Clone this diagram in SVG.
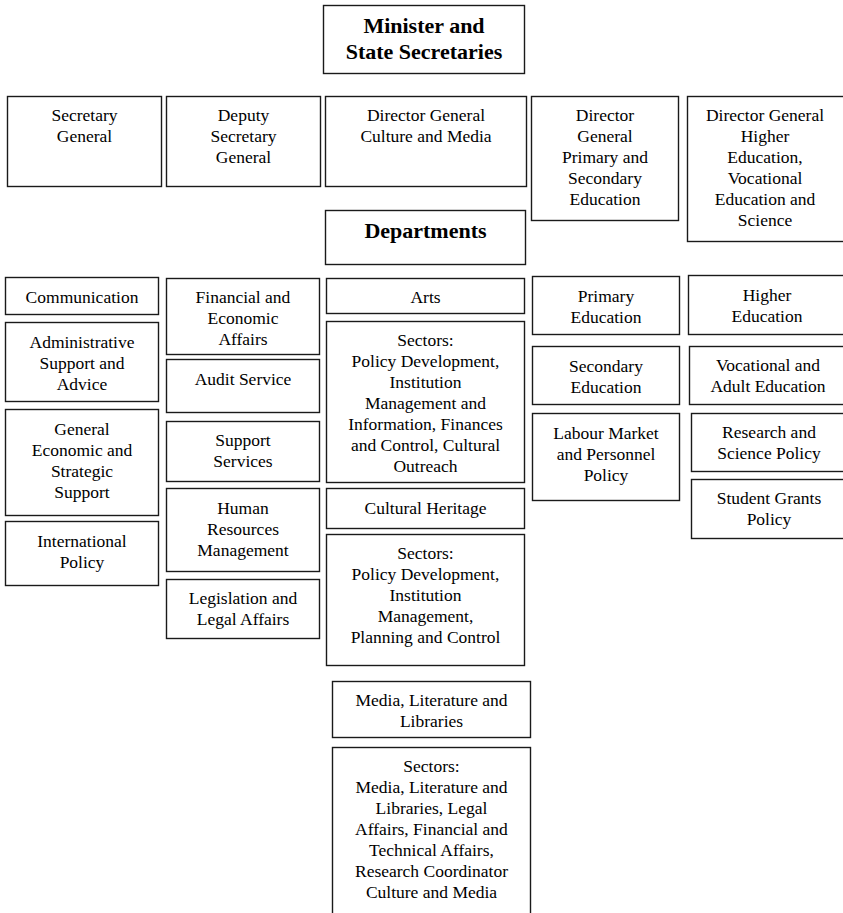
<svg xmlns="http://www.w3.org/2000/svg" width="843" height="913" viewBox="0 0 843 913">
  <style>
    .box { fill: #ffffff; stroke: #1a1a1a; stroke-width: 1.4; }
    .t { font-family: "Liberation Serif", "Times New Roman", serif; font-size: 17.5px; fill: #000; text-anchor: middle; }
    .b { font-family: "Liberation Serif", "Times New Roman", serif; font-size: 22px; font-weight: bold; fill: #000; text-anchor: middle; }
  </style>
  <rect x="0" y="0" width="843" height="913" fill="#ffffff"/>

  <!-- Top level -->
  <g id="minister">
    <rect class="box" x="323.5" y="5.5" width="201" height="68"/>
    <text class="b" x="424" y="33">Minister and</text>
    <text class="b" x="424" y="59">State Secretaries</text>
  </g>

  <!-- Directors row -->
  <g id="secretary-general">
    <rect class="box" x="7.5" y="96.5" width="154" height="90"/>
    <text class="t" x="84.5" y="121">Secretary</text>
    <text class="t" x="84.5" y="142">General</text>
  </g>
  <g id="deputy-secretary-general">
    <rect class="box" x="166.5" y="96.5" width="154" height="90"/>
    <text class="t" x="243.5" y="121">Deputy</text>
    <text class="t" x="243.5" y="142">Secretary</text>
    <text class="t" x="243.5" y="163">General</text>
  </g>
  <g id="dg-culture-media">
    <rect class="box" x="325.5" y="96.5" width="201" height="90"/>
    <text class="t" x="426" y="121">Director General</text>
    <text class="t" x="426" y="142">Culture and Media</text>
  </g>
  <g id="dg-primary-secondary">
    <rect class="box" x="531.5" y="96.5" width="147" height="124"/>
    <text class="t" x="605" y="121">Director</text>
    <text class="t" x="605" y="142">General</text>
    <text class="t" x="605" y="163">Primary and</text>
    <text class="t" x="605" y="184">Secondary</text>
    <text class="t" x="605" y="205">Education</text>
  </g>
  <g id="dg-higher-vocational-science">
    <rect class="box" x="687.5" y="96.5" width="160" height="145"/>
    <text class="t" x="765" y="121">Director General</text>
    <text class="t" x="765" y="142">Higher</text>
    <text class="t" x="765" y="163">Education,</text>
    <text class="t" x="765" y="184">Vocational</text>
    <text class="t" x="765" y="205">Education and</text>
    <text class="t" x="765" y="226">Science</text>
  </g>

  <g id="departments">
    <rect class="box" x="325.5" y="210.5" width="200" height="54"/>
    <text class="b" x="425.5" y="238">Departments</text>
  </g>

  <!-- Column 1 -->
  <g id="communication">
    <rect class="box" x="5.5" y="277.5" width="153" height="37"/>
    <text class="t" x="82" y="303">Communication</text>
  </g>
  <g id="administrative-support">
    <rect class="box" x="5.5" y="322.5" width="153" height="79"/>
    <text class="t" x="82" y="348">Administrative</text>
    <text class="t" x="82" y="369">Support and</text>
    <text class="t" x="82" y="390">Advice</text>
  </g>
  <g id="general-economic-strategic">
    <rect class="box" x="5.5" y="409.5" width="153" height="106"/>
    <text class="t" x="82" y="435">General</text>
    <text class="t" x="82" y="456">Economic and</text>
    <text class="t" x="82" y="477">Strategic</text>
    <text class="t" x="82" y="498">Support</text>
  </g>
  <g id="international-policy">
    <rect class="box" x="5.5" y="521.5" width="153" height="64"/>
    <text class="t" x="82" y="547">International</text>
    <text class="t" x="82" y="568">Policy</text>
  </g>

  <!-- Column 2 -->
  <g id="financial-economic">
    <rect class="box" x="166.5" y="278.5" width="153" height="76"/>
    <text class="t" x="243" y="303">Financial and</text>
    <text class="t" x="243" y="324">Economic</text>
    <text class="t" x="243" y="345">Affairs</text>
  </g>
  <g id="audit-service">
    <rect class="box" x="166.5" y="359.5" width="153" height="53"/>
    <text class="t" x="243" y="385">Audit Service</text>
  </g>
  <g id="support-services">
    <rect class="box" x="166.5" y="421.5" width="153" height="60"/>
    <text class="t" x="243" y="446">Support</text>
    <text class="t" x="243" y="467">Services</text>
  </g>
  <g id="human-resources">
    <rect class="box" x="166.5" y="488.5" width="153" height="83"/>
    <text class="t" x="243" y="514">Human</text>
    <text class="t" x="243" y="535">Resources</text>
    <text class="t" x="243" y="556">Management</text>
  </g>
  <g id="legislation-legal">
    <rect class="box" x="166.5" y="579.5" width="153" height="59"/>
    <text class="t" x="243" y="604">Legislation and</text>
    <text class="t" x="243" y="625">Legal Affairs</text>
  </g>

  <!-- Column 3 -->
  <g id="arts">
    <rect class="box" x="326.5" y="278.5" width="198" height="35"/>
    <text class="t" x="425.5" y="303">Arts</text>
  </g>
  <g id="arts-sectors">
    <rect class="box" x="326.5" y="321.5" width="198" height="161"/>
    <text class="t" x="425.5" y="346">Sectors:</text>
    <text class="t" x="425.5" y="367">Policy Development,</text>
    <text class="t" x="425.5" y="388">Institution</text>
    <text class="t" x="425.5" y="409">Management and</text>
    <text class="t" x="425.5" y="430">Information, Finances</text>
    <text class="t" x="425.5" y="451">and Control, Cultural</text>
    <text class="t" x="425.5" y="472">Outreach</text>
  </g>
  <g id="cultural-heritage">
    <rect class="box" x="326.5" y="488.5" width="198" height="40"/>
    <text class="t" x="425.5" y="514">Cultural Heritage</text>
  </g>
  <g id="heritage-sectors">
    <rect class="box" x="326.5" y="534.5" width="198" height="131"/>
    <text class="t" x="425.5" y="559">Sectors:</text>
    <text class="t" x="425.5" y="580">Policy Development,</text>
    <text class="t" x="425.5" y="601">Institution</text>
    <text class="t" x="425.5" y="622">Management,</text>
    <text class="t" x="425.5" y="643">Planning and Control</text>
  </g>
  <g id="media-literature-libraries">
    <rect class="box" x="332.5" y="681.5" width="198" height="56"/>
    <text class="t" x="431.5" y="706">Media, Literature and</text>
    <text class="t" x="431.5" y="727">Libraries</text>
  </g>
  <g id="media-sectors">
    <rect class="box" x="332.5" y="747.5" width="198" height="180"/>
    <text class="t" x="431.5" y="772">Sectors:</text>
    <text class="t" x="431.5" y="793">Media, Literature and</text>
    <text class="t" x="431.5" y="814">Libraries, Legal</text>
    <text class="t" x="431.5" y="835">Affairs, Financial and</text>
    <text class="t" x="431.5" y="856">Technical Affairs,</text>
    <text class="t" x="431.5" y="877">Research Coordinator</text>
    <text class="t" x="431.5" y="898">Culture and Media</text>
  </g>

  <!-- Column 4 -->
  <g id="primary-education">
    <rect class="box" x="532.5" y="276.5" width="147" height="58"/>
    <text class="t" x="606" y="302">Primary</text>
    <text class="t" x="606" y="323">Education</text>
  </g>
  <g id="secondary-education">
    <rect class="box" x="532.5" y="346.5" width="147" height="58"/>
    <text class="t" x="606" y="372">Secondary</text>
    <text class="t" x="606" y="393">Education</text>
  </g>
  <g id="labour-market-personnel">
    <rect class="box" x="532.5" y="413.5" width="147" height="87"/>
    <text class="t" x="606" y="439">Labour Market</text>
    <text class="t" x="606" y="460">and Personnel</text>
    <text class="t" x="606" y="481">Policy</text>
  </g>

  <!-- Column 5 -->
  <g id="higher-education">
    <rect class="box" x="688.5" y="275.5" width="160" height="59"/>
    <text class="t" x="767" y="301">Higher</text>
    <text class="t" x="767" y="322">Education</text>
  </g>
  <g id="vocational-adult-education">
    <rect class="box" x="689.5" y="346.5" width="160" height="58"/>
    <text class="t" x="768" y="371">Vocational and</text>
    <text class="t" x="768" y="392">Adult Education</text>
  </g>
  <g id="research-science-policy">
    <rect class="box" x="691.5" y="413.5" width="160" height="58"/>
    <text class="t" x="769" y="438">Research and</text>
    <text class="t" x="769" y="459">Science Policy</text>
  </g>
  <g id="student-grants-policy">
    <rect class="box" x="691.5" y="479.5" width="160" height="59"/>
    <text class="t" x="769" y="504">Student Grants</text>
    <text class="t" x="769" y="525">Policy</text>
  </g>
</svg>
